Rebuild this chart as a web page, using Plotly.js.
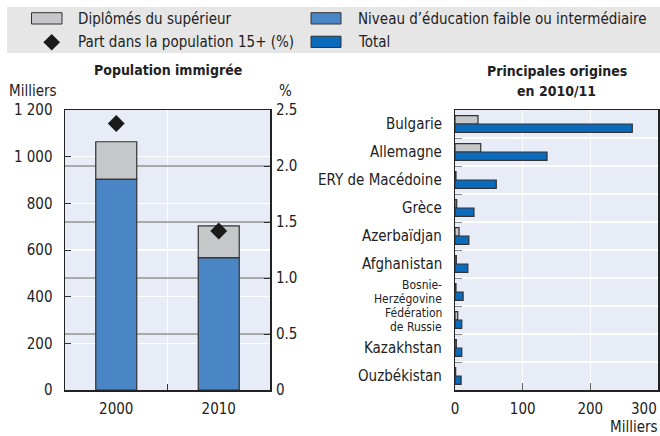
<!DOCTYPE html>
<html>
<head>
<meta charset="utf-8">
<script src="https://cdn.plot.ly/plotly-3.0.1.min.js"></script>
<style>html,body{margin:0;padding:0;background:#fff}#chart{width:660px;height:436px}</style>
</head>
<body>
<div id="chart"></div>
<script>
// ---- data ----
var years = ['2000', '2010'];
var lowMid = [903, 566];          // Niveau d'éducation faible ou intermédiaire (milliers)
var tertiary = [161, 137];        // Diplômés du supérieur (milliers)
var sharePop = [2.38, 1.42];      // Part dans la population 15+ (%)

var countries = ['Bulgarie', 'Allemagne', 'ERY de Macédoine', 'Grèce', 'Azerbaïdjan',
  'Afghanistan', 'Bosnie-<br>Herzégovine', 'Fédération<br>de Russie', 'Kazakhstan', 'Ouzbékistan'];
var originTertiary = [34, 38, 1.5, 2.5, 6, 2, 1.5, 4, 2, 1];
var originTotal = [262, 136, 61, 28, 20.5, 19, 12, 10, 10, 9];

var y2TickVals = [0, 0.5, 1, 1.5, 2, 2.5];
var y2TickText = ['0', '0.5', '1.0', '1.5', '2.0', '2.5'];
var x3TickVals = [0, 100, 200, 300];

// ---- styles ----
var FONT = 'DejaVu Sans Condensed, Liberation Sans, Arial, sans-serif';
var W = 660, H = 436;
function px(x) { return x / W; }
function py(y) { return 1 - y / H; }
var cGray = '#c6c7c8', cBlue = '#4a86c5', cTotal = '#0a6bbd', cEdge = '#333333';
var bg = '#e8ecf7';

var traces = [
  { type: 'bar', name: 'Diplômés du supérieur', x: years, y: tertiary, base: lowMid,
    width: 0.4, marker: { color: cGray, line: { color: cEdge, width: 1.2 } },
    xaxis: 'x', yaxis: 'y', showlegend: false, hoverinfo: 'none' },
  { type: 'bar', name: 'Niveau d\u2019éducation faible ou intermédiaire', x: years, y: lowMid,
    width: 0.4, marker: { color: cBlue, line: { color: cEdge, width: 1.2 } },
    xaxis: 'x', yaxis: 'y', showlegend: false, hoverinfo: 'none' },
  { type: 'scatter', mode: 'markers', name: 'Part dans la population 15+ (%)', x: years, y: sharePop,
    marker: { symbol: 'diamond', size: 13, color: '#1a1a1a' },
    xaxis: 'x', yaxis: 'y2', showlegend: false, hoverinfo: 'none' },
  { type: 'bar', orientation: 'h', name: 'Diplômés du supérieur', y: countries, x: originTertiary,
    width: 0.3, offset: -0.3, marker: { color: cGray, line: { color: cEdge, width: 1.2 } },
    xaxis: 'x3', yaxis: 'y3', showlegend: false, hoverinfo: 'none' },
  { type: 'bar', orientation: 'h', name: 'Total', y: countries, x: originTotal,
    width: 0.3, offset: 0, marker: { color: cTotal, line: { color: cEdge, width: 1.2 } },
    xaxis: 'x3', yaxis: 'y3', showlegend: false, hoverinfo: 'none' }
];

var tickFont = { family: FONT, size: 15, color: '#222' };
var yDom = [py(390), py(110)];

var baseAnn = { xref: 'paper', yref: 'paper', xanchor: 'left', yanchor: 'middle',
  showarrow: false, borderpad: 0, borderwidth: 0,
  font: { family: FONT, size: 15, color: '#222' } };
var titleFont = { family: FONT, size: 14, color: '#222' };
var annotations = [
  { text: 'Diplômés du supérieur', x: px(77.7), y: py(18.5) },
  { text: 'Part dans la population 15+ (%)', x: px(77.7), y: py(42) },
  { text: 'Niveau d\u2019éducation faible ou intermédiaire', x: px(357.7), y: py(18.5) },
  { text: 'Total', x: px(357.7), y: py(42) },
  { text: '<b>Population immigrée</b>', x: px(167.5), y: py(70), xanchor: 'center', font: titleFont },
  { text: '<b>Principales origines</b>', x: px(556.5), y: py(71), xanchor: 'center', font: titleFont },
  { text: '<b>en 2010/11</b>', x: px(556.5), y: py(91), xanchor: 'center', font: titleFont },
  { text: 'Milliers', x: px(9), y: py(91) },
  { text: '%', x: px(279), y: py(91) },
  { text: 'Milliers', x: px(658), y: 0, xanchor: 'right', yanchor: 'bottom' },
  { text: String(x3TickVals[3]), xref: 'x3', x: x3TickVals[3], y: py(409), xanchor: 'right', xshift: -1 }
].map(function (a) { return Object.assign({}, baseAnn, a); });

// country labels (one annotation per line so that wrapped names stay compact)
countries.forEach(function (c, i) {
  var lines = c.split('<br>');
  var n = lines.length;
  lines.forEach(function (ln, j) {
    annotations.push(Object.assign({}, baseAnn, {
      text: ln, xref: 'paper', yref: 'y3', x: px(442), y: i, xanchor: 'right',
      yshift: ((n - 1) / 2 - j) * 14,
      font: { family: FONT, size: n > 1 ? 12 : 15, color: '#222' }
    }));
  });
});

var layout = {
  width: W, height: H,
  margin: { l: 0, r: 0, t: 0, b: 0 },
  paper_bgcolor: '#ffffff', plot_bgcolor: bg,
  barmode: 'overlay',
  separators: '. ',
  showlegend: false,
  font: { family: FONT, size: 15, color: '#222' },
  xaxis: {
    domain: [px(65), px(270)], type: 'category', range: [-0.5, 1.5],
    tickson: 'boundaries', ticks: 'inside', ticklen: 6, tickcolor: '#333',
    showgrid: true, gridcolor: '#ffffff', gridwidth: 1.5,
    showline: true, mirror: true, linecolor: '#222', linewidth: 1.5,
    tickfont: tickFont, anchor: 'y', ticklabelstandoff: 4, fixedrange: true
  },
  yaxis: {
    domain: yDom, range: [0, 1200], dtick: 200, separatethousands: true,
    ticks: 'inside', ticklen: 6, tickcolor: '#333',
    showgrid: true, gridcolor: '#ffffff', gridwidth: 1.5, zeroline: false,
    showline: true, mirror: true, linecolor: '#222', linewidth: 1.5,
    tickfont: tickFont, anchor: 'x', ticklabelstandoff: 8, fixedrange: true
  },
  yaxis2: {
    overlaying: 'y', side: 'right', anchor: 'x', range: [0, 2.5],
    tickvals: y2TickVals, ticktext: y2TickText,
    ticks: 'inside', ticklen: 6, tickcolor: '#333',
    showgrid: true, gridcolor: '#a9a9a9', gridwidth: 1.5, zeroline: false,
    showline: false, tickfont: tickFont, ticklabelstandoff: 5, fixedrange: true
  },
  xaxis3: {
    domain: [px(455), px(658)], range: [0, 300],
    tickvals: x3TickVals.slice(0, 3),
    ticks: 'inside', ticklen: 7, tickcolor: '#666',
    showgrid: true, gridcolor: '#ffffff', gridwidth: 1.5, zeroline: false,
    showline: true, mirror: true, linecolor: '#222', linewidth: 1.5,
    tickfont: tickFont, anchor: 'y3', ticklabelstandoff: 4, fixedrange: true
  },
  yaxis3: {
    domain: yDom, type: 'category', categoryorder: 'array', categoryarray: countries,
    range: [9.5, -0.5], tickson: 'boundaries', ticks: 'inside', ticklen: 7, tickcolor: '#888',
    showgrid: true, gridcolor: '#ffffff', gridwidth: 1.5, showticklabels: false,
    showline: true, mirror: true, linecolor: '#222', linewidth: 1.5,
    anchor: 'x3', fixedrange: true
  },
  shapes: [
    { type: 'rect', xref: 'paper', yref: 'paper', x0: px(7), x1: 1, y0: py(53), y1: py(7),
      fillcolor: '#e6e6e6', line: { width: 0 }, layer: 'below' },
    { type: 'rect', xref: 'paper', yref: 'paper', x0: px(31.5), x1: px(62), y0: py(24), y1: py(12.7),
      fillcolor: cGray, line: { color: cEdge, width: 1 } },
    { type: 'rect', xref: 'paper', yref: 'paper', x0: px(311), x1: px(341), y0: py(24), y1: py(12.7),
      fillcolor: cBlue, line: { color: cEdge, width: 1 } },
    { type: 'rect', xref: 'paper', yref: 'paper', x0: px(311), x1: px(341), y0: py(47.5), y1: py(36.2),
      fillcolor: cTotal, line: { color: cEdge, width: 1 } },
    { type: 'path', xref: 'paper', yref: 'paper',
      path: 'M' + px(51.7) + ',' + py(34) + ' L' + px(60) + ',' + py(42.3) + ' L' + px(51.7) + ',' + py(50.6) +
            ' L' + px(43.4) + ',' + py(42.3) + ' Z',
      fillcolor: '#1a1a1a', line: { width: 0 } }
  ],
  annotations: annotations
};

Plotly.newPlot('chart', traces, layout, { displayModeBar: false, staticPlot: true });
</script>
</body>
</html>
